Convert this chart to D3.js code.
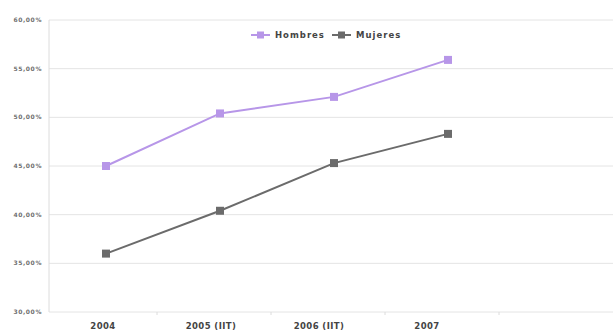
<!DOCTYPE html>
<html>
<head>
<meta charset="utf-8">
<script src="https://cdn.jsdelivr.net/npm/d3@7"></script>
<style>
  body { margin: 0; background: #fff; }
  svg { display: block; font-family: Verdana, "DejaVu Sans", sans-serif; }
</style>
</head>
<body>
<svg id="chart" width="613" height="333"></svg>
<script>
var categories = ["2004", "2005 (IIT)", "2006 (IIT)", "2007"];
var hombres = [45.0, 50.4, 52.1, 55.9];
var mujeres = [36.0, 40.4, 45.3, 48.3];
var yTicks = [30, 35, 40, 45, 50, 55, 60];
var seriesNames = ["Hombres", "Mujeres"];
var colors = ["#b796e8", "#6b6b6b"];

var svg = d3.select("#chart");
var plotLeft = 49, plotRight = 619, plotTop = 20, plotBottom = 312;

var y = d3.scaleLinear().domain([30, 60]).range([plotBottom, plotTop]);
// five slots, last one is empty
var x = d3.scaleBand().domain(d3.range(5)).range([plotLeft, plotRight]);
var xLabel = d3.scalePoint().domain(categories).range([103, 427]);

function fmt(v) { return v.toFixed(2).replace(".", ",") + "%"; }

// grid
svg.append("g").selectAll("line")
  .data(yTicks).enter().append("line")
  .attr("x1", plotLeft).attr("x2", 613)
  .attr("y1", function(d) { return y(d); })
  .attr("y2", function(d) { return y(d); })
  .attr("stroke", "#e4e4e4").attr("stroke-width", 1);

// y axis line
svg.append("line")
  .attr("x1", plotLeft).attr("x2", plotLeft)
  .attr("y1", plotTop).attr("y2", plotBottom)
  .attr("stroke", "#dcdcdc");

// x axis ticks
svg.append("g").selectAll("line")
  .data(d3.range(1, 5)).enter().append("line")
  .attr("x1", function(d) { return x(d) - 6; })
  .attr("x2", function(d) { return x(d) - 6; })
  .attr("y1", plotBottom).attr("y2", plotBottom + 3)
  .attr("stroke", "#dcdcdc");

svg.append("g").selectAll("text")
  .data(yTicks).enter().append("text")
  .attr("x", 42)
  .attr("y", function(d) { return y(d); })
  .attr("dy", "0.35em")
  .attr("text-anchor", "end")
  .attr("font-size", 6)
  .attr("letter-spacing", 0.6)
  .attr("font-weight", "bold")
  .attr("fill", "#707070")
  .text(fmt);

svg.append("g").selectAll("text")
  .data(categories).enter().append("text")
  .attr("x", function(d) { return xLabel(d); })
  .attr("y", 329)
  .attr("text-anchor", "middle")
  .attr("font-size", 8.5)
  .attr("letter-spacing", 0.4)
  .attr("font-weight", "bold")
  .attr("fill", "#444")
  .text(function(d) { return d; });

var line = d3.line()
  .x(function(d, i) { return x(i) + x.bandwidth() / 2; })
  .y(function(d) { return y(d); });

[hombres, mujeres].forEach(function(vals, k) {
  svg.append("path")
    .datum(vals)
    .attr("d", line)
    .attr("fill", "none")
    .attr("stroke", colors[k])
    .attr("stroke-width", 2);
  svg.append("g").selectAll("rect")
    .data(vals).enter().append("rect")
    .attr("x", function(d, i) { return x(i) + x.bandwidth() / 2 - 4; })
    .attr("y", function(d) { return y(d) - 4; })
    .attr("width", 8).attr("height", 8)
    .attr("fill", colors[k]);
});

// legend
var legendX = [251, 332];
var legend = svg.append("g").selectAll("g")
  .data(seriesNames).enter().append("g")
  .attr("transform", function(d, i) { return "translate(" + legendX[i] + ",35)"; });
legend.append("line")
  .attr("x1", 0).attr("x2", 19).attr("y1", 0).attr("y2", 0)
  .attr("stroke", function(d, i) { return colors[i]; })
  .attr("stroke-width", 2);
legend.append("rect")
  .attr("x", 6).attr("y", -3.5).attr("width", 7).attr("height", 7)
  .attr("fill", function(d, i) { return colors[i]; });
legend.append("text")
  .attr("x", 24).attr("y", 0).attr("dy", "0.35em")
  .attr("font-size", 8.5)
  .attr("letter-spacing", 1)
  .attr("font-weight", "bold")
  .attr("fill", "#444")
  .text(function(d) { return d; });
</script>
</body>
</html>
